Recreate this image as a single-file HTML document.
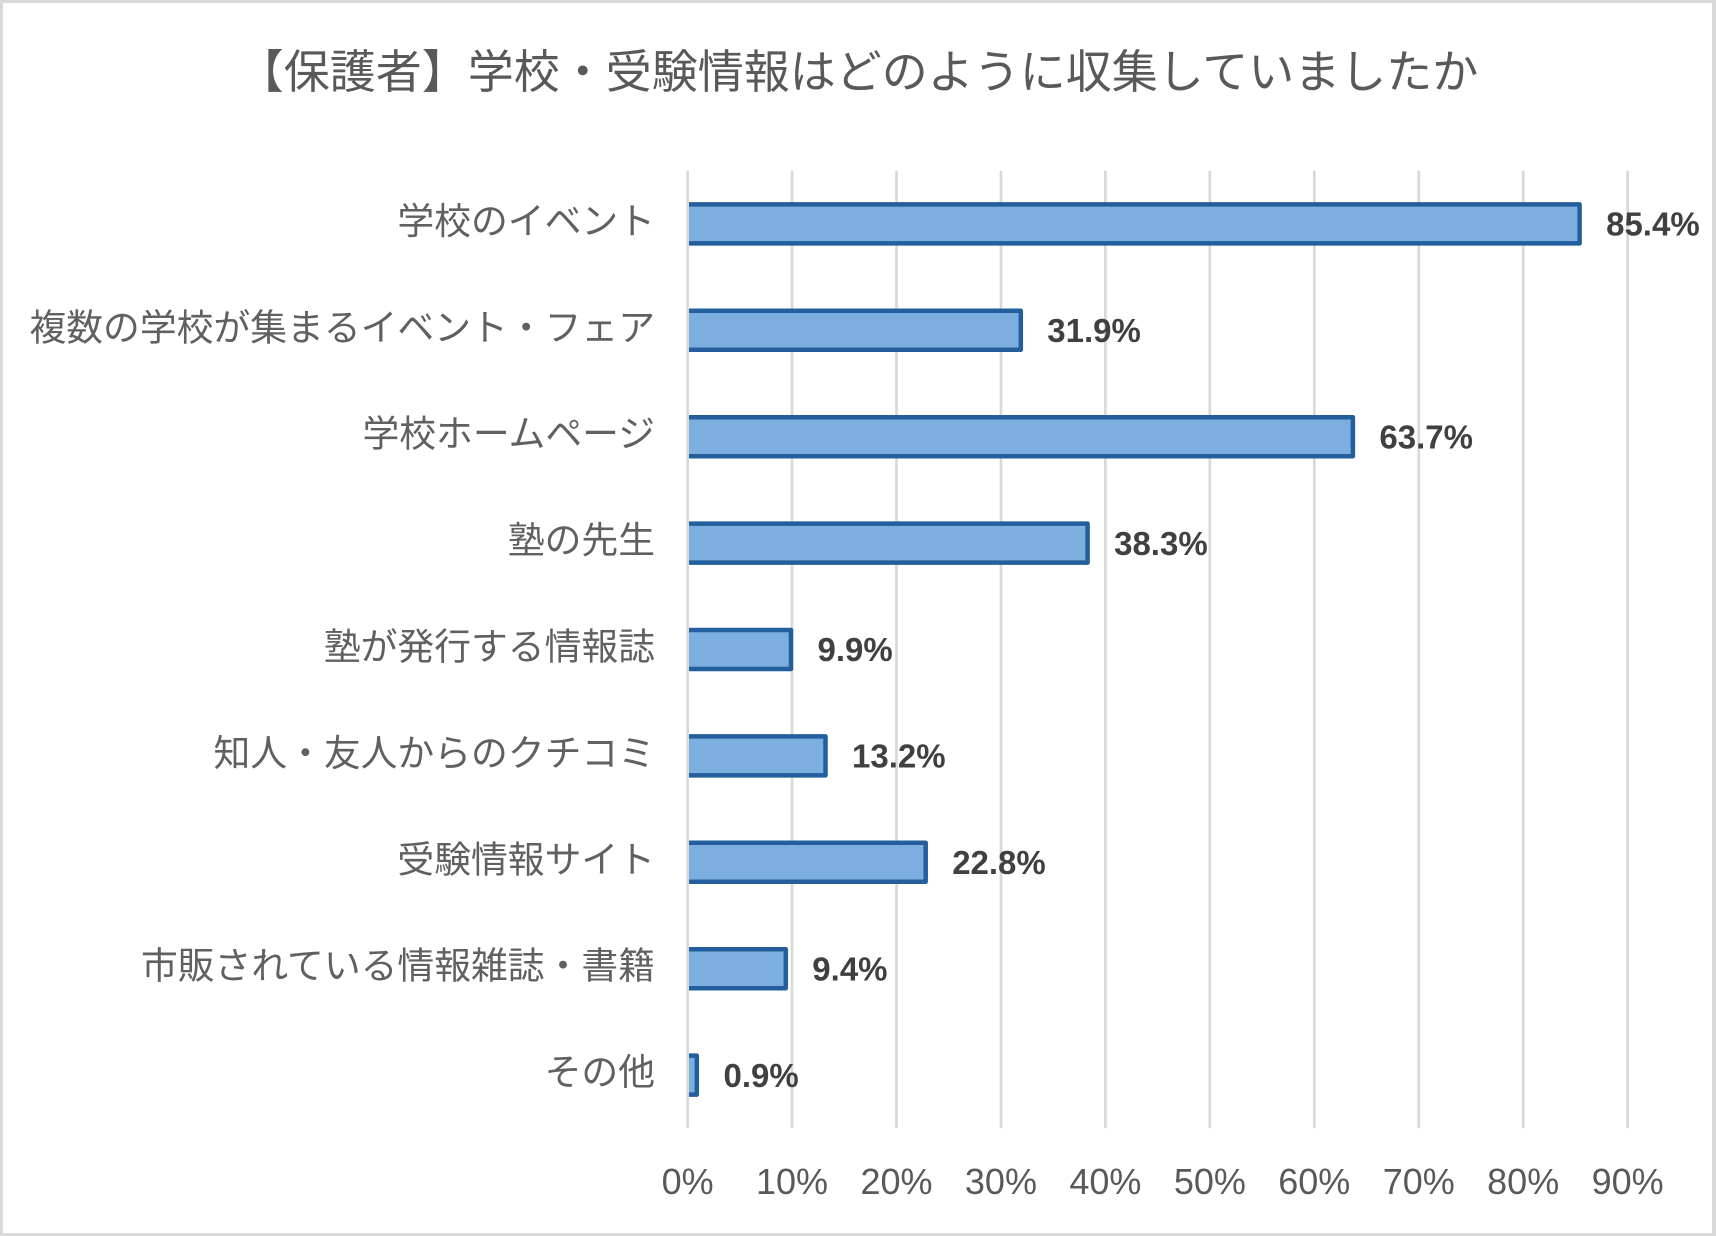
<!DOCTYPE html>
<html>
<head>
<meta charset="utf-8">
<style>
  html, body { margin: 0; padding: 0; background: #ffffff; }
  svg { display: block; }
  .title { font-family: "Liberation Sans", "Noto Sans CJK JP", sans-serif; font-size: 46px; fill: #595959; }
  .cat { font-family: "Liberation Sans", "Noto Sans CJK JP", sans-serif; font-size: 36.8px; fill: #606060; }
  .val { font-family: "Liberation Sans", "Noto Sans CJK JP", sans-serif; font-size: 33px; font-weight: bold; fill: #404040; }
  .tick { font-family: "Liberation Sans", "Noto Sans CJK JP", sans-serif; font-size: 36px; fill: #595959; }
</style>
</head>
<body>
<svg width="1716" height="1236" viewBox="0 0 1716 1236" xmlns="http://www.w3.org/2000/svg">
  <defs>
    <clipPath id="plotclip"><rect x="689" y="0" width="1027" height="1236"/></clipPath>
  </defs>
  <!-- outer border -->
  <rect x="0" y="0" width="1716" height="1236" fill="#d9d9d9"/>
  <rect x="3" y="3" width="1709" height="1230" fill="#ffffff"/>

  <!-- title -->
  <text class="title" x="858" y="88" text-anchor="middle">【保護者】学校・受験情報はどのように収集していましたか</text>

  <!-- gridlines -->
  <g stroke="#d9d9d9" stroke-width="2.7">
    <line x1="687.6" y1="170.7" x2="687.6" y2="1128.3"/>
    <line x1="792.05" y1="170.7" x2="792.05" y2="1128.3"/>
    <line x1="896.5" y1="170.7" x2="896.5" y2="1128.3"/>
    <line x1="1000.95" y1="170.7" x2="1000.95" y2="1128.3"/>
    <line x1="1105.4" y1="170.7" x2="1105.4" y2="1128.3"/>
    <line x1="1209.85" y1="170.7" x2="1209.85" y2="1128.3"/>
    <line x1="1314.3" y1="170.7" x2="1314.3" y2="1128.3"/>
    <line x1="1418.75" y1="170.7" x2="1418.75" y2="1128.3"/>
    <line x1="1523.2" y1="170.7" x2="1523.2" y2="1128.3"/>
    <line x1="1627.65" y1="170.7" x2="1627.65" y2="1128.3"/>
  </g>

  <!-- bars -->
  <g clip-path="url(#plotclip)" fill="#7cafe0" stroke="#235f9c" stroke-width="4.5" stroke-linejoin="round">
    <rect x="685" y="204.4" width="894.6" height="39"/>
    <rect x="685" y="310.8" width="335.8" height="39"/>
    <rect x="685" y="417.2" width="667.9" height="39"/>
    <rect x="685" y="523.6" width="402.6" height="39"/>
    <rect x="685" y="630.0" width="106.0" height="39"/>
    <rect x="685" y="736.4" width="140.5" height="39"/>
    <rect x="685" y="842.8" width="240.7" height="39"/>
    <rect x="685" y="949.2" width="100.8" height="39"/>
    <rect x="685" y="1055.6" width="11.8" height="39"/>
  </g>

  <!-- value labels -->
  <g class="val">
    <text class="val" x="1606.1" y="235.6">85.4%</text>
    <text class="val" x="1047.3" y="342.0">31.9%</text>
    <text class="val" x="1379.4" y="448.4">63.7%</text>
    <text class="val" x="1114.1" y="554.8">38.3%</text>
    <text class="val" x="817.5" y="661.2">9.9%</text>
    <text class="val" x="852.0" y="767.6">13.2%</text>
    <text class="val" x="952.2" y="874.0">22.8%</text>
    <text class="val" x="812.3" y="980.4">9.4%</text>
    <text class="val" x="723.5" y="1086.8">0.9%</text>
  </g>

  <!-- category labels -->
  <g>
    <text class="cat" x="655" y="233.9" text-anchor="end">学校のイベント</text>
    <text class="cat" x="655" y="340.3" text-anchor="end">複数の学校が集まるイベント・フェア</text>
    <text class="cat" x="655" y="446.7" text-anchor="end">学校ホームページ</text>
    <text class="cat" x="655" y="553.1" text-anchor="end">塾の先生</text>
    <text class="cat" x="655" y="659.5" text-anchor="end">塾が発行する情報誌</text>
    <text class="cat" x="655" y="765.9" text-anchor="end">知人・友人からのクチコミ</text>
    <text class="cat" x="655" y="872.3" text-anchor="end">受験情報サイト</text>
    <text class="cat" x="655" y="978.7" text-anchor="end">市販されている情報雑誌・書籍</text>
    <text class="cat" x="655" y="1085.1" text-anchor="end">その他</text>
  </g>

  <!-- axis tick labels -->
  <g text-anchor="middle">
    <text class="tick" x="687.6" y="1194">0%</text>
    <text class="tick" x="792.05" y="1194">10%</text>
    <text class="tick" x="896.5" y="1194">20%</text>
    <text class="tick" x="1000.95" y="1194">30%</text>
    <text class="tick" x="1105.4" y="1194">40%</text>
    <text class="tick" x="1209.85" y="1194">50%</text>
    <text class="tick" x="1314.3" y="1194">60%</text>
    <text class="tick" x="1418.75" y="1194">70%</text>
    <text class="tick" x="1523.2" y="1194">80%</text>
    <text class="tick" x="1627.65" y="1194">90%</text>
  </g>
</svg>
</body>
</html>
